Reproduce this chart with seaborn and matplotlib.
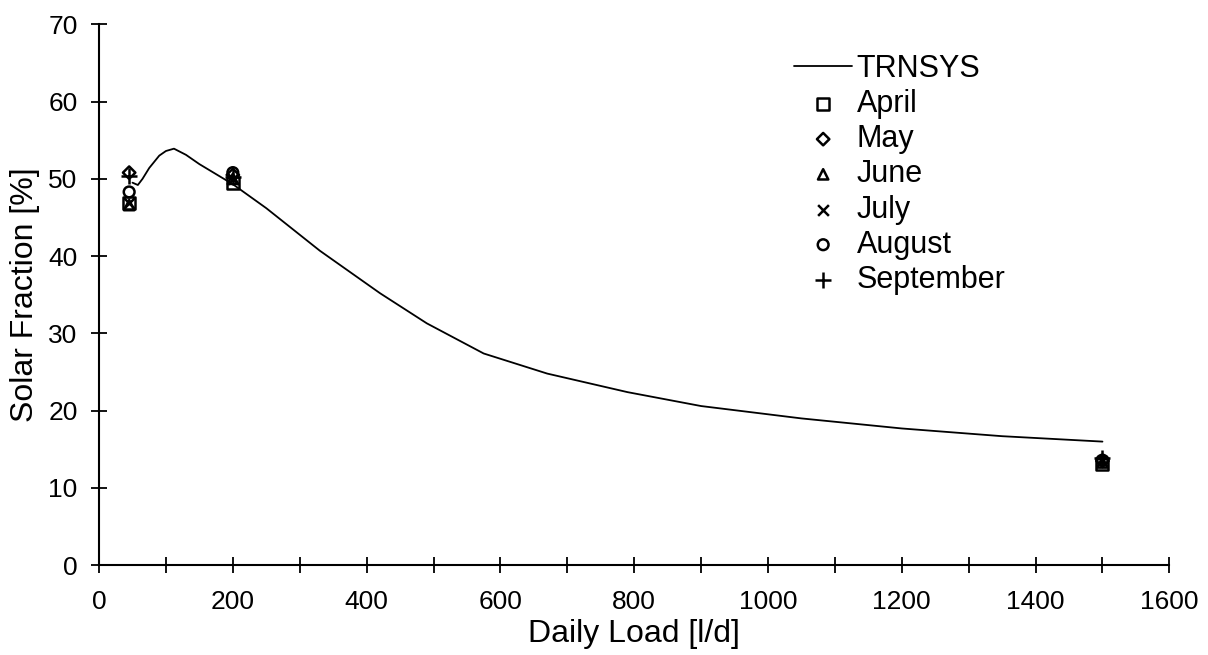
import matplotlib
matplotlib.use('Agg')

import matplotlib.pyplot as plt
from matplotlib.ticker import MultipleLocator
import seaborn as sns


# TRNSYS simulation curve
trnsys_load = [50, 58, 65, 75, 90, 100, 112, 130, 150, 175, 200, 250, 330,
               420, 490, 575, 670, 790, 900, 1050, 1200, 1350, 1500]
trnsys_fraction = [49.5, 49.2, 50.0, 51.4, 53.0, 53.6, 53.9, 53.1, 51.9,
                   50.6, 49.3, 46.2, 40.7, 35.2, 31.3, 27.4, 24.8, 22.4,
                   20.6, 19.0, 17.7, 16.7, 16.0]

# measured points per month
loads = [45, 200, 1500]
months = ["April", "May", "June", "July", "August", "September"]
april = [46.9, 49.5, 13.1]
may = [50.8, 50.5, 13.5]
june = [46.6, 50.0, 13.3]
july = [46.9, 50.0, 13.5]
august = [48.3, 50.8, 13.6]
september = [50.4, 50.2, 13.9]
month_values = [april, may, june, july, august, september]
month_markers = ["s", "D", "^", "x", "o", "+"]
month_sizes = [75, 40, 55, 60, 60, 130]

sns.set_style("white", {
    "text.color": "black",
    "axes.labelcolor": "black",
    "xtick.color": "black",
    "ytick.color": "black",
})
plt.rcParams['font.family'] = ['Liberation Sans', 'DejaVu Sans']

fig = plt.figure(figsize=(12.08, 6.55), dpi=100)
ax = fig.add_axes([0.082, 0.137, 0.886, 0.826])

sns.lineplot(
    x=trnsys_load,
    y=trnsys_fraction,
    color="black",
    linewidth=1.3,
    label="TRNSYS",
    ax=ax
)

for name, vals, mk, sz in zip(months, month_values, month_markers, month_sizes):
    if mk in ("x", "+"):
        sns.scatterplot(x=loads, y=vals, marker=mk, color="black",
                        s=sz, linewidth=1.8, label=name, ax=ax)
    else:
        sns.scatterplot(x=loads, y=vals, marker=mk, facecolors="none",
                        edgecolor="black", s=sz, linewidth=1.8,
                        label=name, ax=ax)

ax.set_xlim(0, 1600)
ax.set_ylim(0, 70)
ax.xaxis.set_major_locator(MultipleLocator(200))
ax.xaxis.set_minor_locator(MultipleLocator(100))
ax.yaxis.set_major_locator(MultipleLocator(10))

for side in ["top", "right"]:
    ax.spines[side].set_visible(False)
for side in ["left", "bottom"]:
    ax.spines[side].set_linewidth(1.5)
    ax.spines[side].set_color("black")

ax.tick_params(which="both", direction="inout", length=11, width=1.3,
               colors="black", labelsize=19, bottom=True, left=True)
ax.tick_params(axis="x", pad=12)
ax.tick_params(axis="y", pad=10)

ax.set_xlabel("Daily Load [l/d]", fontsize=23, labelpad=4)
ax.set_ylabel("Solar Fraction [%]", fontsize=23, labelpad=6)

ax.legend(
    loc="upper left",
    bbox_to_anchor=(0.638, 0.968),
    frameon=False,
    fontsize=22,
    handlelength=1.9,
    handletextpad=0.15,
    labelspacing=0.17,
    borderaxespad=0,
    scatterpoints=1
)

plt.savefig("out.png", dpi=100)
plt.close()
